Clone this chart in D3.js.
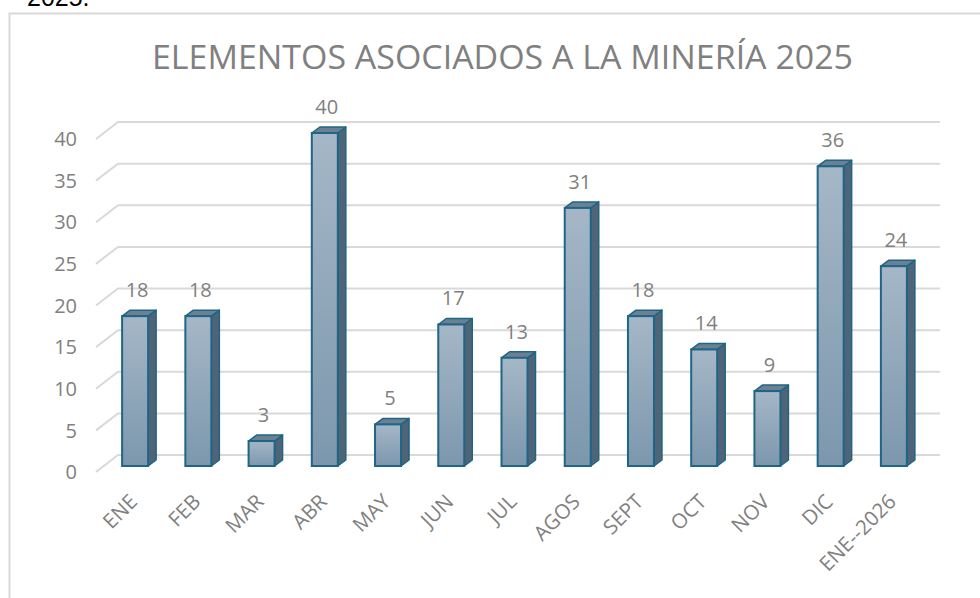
<!DOCTYPE html>
<html>
<head>
<meta charset="utf-8">
<script src="https://cdn.jsdelivr.net/npm/d3@7"></script>
<style>
  body { margin: 0; background: #fff; }
  svg { font-family: "Open Sans", "Liberation Sans", sans-serif; }
</style>
</head>
<body>
<div id="chart"></div>
<script>
const width = 980
const height = 598

const categories = ["ENE", "FEB", "MAR", "ABR", "MAY", "JUN", "JUL", "AGOS", "SEPT", "OCT", "NOV", "DIC", "ENE--2026"]
const values = [18, 18, 3, 40, 5, 17, 13, 31, 18, 14, 9, 36, 24]
const yTicks = [0, 5, 10, 15, 20, 25, 30, 35, 40]
const title = "ELEMENTOS ASOCIADOS A LA MINERÍA 2025"

// front plane of the 3d box, back wall is shifted by (wallDx, wallDy)
const wallDx = 22, wallDy = -17
const barDx = 8, barDy = -6       // bar depth
const barOffX = 7.5, barOffY = -6 // bar front face sits a bit inside the box

var x = d3.scaleBand()
  .domain(categories)
  .range([96, 918])
  .paddingInner(0)

var y = d3.scaleLinear()
  .domain([0, 40])
  .range([472, 139])

const barW = 26

var svg = d3.select("#chart")
  .append("svg")
  .attr("width", width)
  .attr("height", height)

// gradient for bar fronts
var defs = svg.append("defs")
var grad = defs.append("linearGradient")
  .attr("id", "barGrad")
  .attr("x1", 0).attr("y1", 0).attr("x2", 0).attr("y2", 1)
grad.append("stop").attr("offset", "0%").attr("stop-color", "#a5b7c7")
grad.append("stop").attr("offset", "100%").attr("stop-color", "#7c97ad")

// cut text on top of the page (cut in the original too)
svg.append("text")
  .attr("x", 27)
  .attr("y", 6)
  .style("font-family", "Liberation Sans, Arial, sans-serif")
  .style("font-size", "25px")
  .style("fill", "#000")
  .text("2025.")

// chart frame
svg.append("path")
  .attr("d", "M9.5," + (height + 2) + " L9.5,13.5 L" + (width + 2) + ",13.5")
  .attr("fill", "none")
  .attr("stroke", "#d9d9d9")
  .attr("stroke-width", 2)

// title
svg.append("text")
  .attr("x", 152)
  .attr("y", 69)
  .attr("textLength", 701)
  .attr("lengthAdjust", "spacingAndGlyphs")
  .style("font-size", "33px")
  .style("fill", "#808080")
  .text(title)

// gridlines (back wall + left side diagonal)
var grid = svg.append("g").attr("class", "grid")
yTicks.forEach(function(t) {
  grid.append("path")
    .attr("d", "M" + x.range()[0] + "," + y(t) +
      " L" + (x.range()[0] + wallDx) + "," + (y(t) + wallDy) +
      " L" + (x.range()[1] + wallDx) + "," + (y(t) + wallDy))
    .attr("fill", "none")
    .attr("stroke", "#d9d9d9")
    .attr("stroke-width", 2)
})

// y axis labels
svg.append("g")
  .selectAll("text")
  .data(yTicks)
  .join("text")
  .attr("x", 77)
  .attr("y", d => y(d))
  .attr("dy", "0.36em")
  .attr("text-anchor", "end")
  .style("font-size", "20px")
  .style("fill", "#808080")
  .text(d => d)

// bars
var bars = svg.append("g")
  .selectAll("g")
  .data(categories.map((c, i) => ({c: c, v: values[i]})))
  .join("g")

function fx(d) { return x(d.c) + x.bandwidth() / 2 - barW / 2 + barOffX }
function fy(v) { return y(v) + barOffY }

// side face
bars.append("path")
  .attr("d", function(d) {
    let x1 = fx(d) + barW
    return "M" + x1 + "," + fy(d.v) + " L" + (x1 + barDx) + "," + (fy(d.v) + barDy) +
      " L" + (x1 + barDx) + "," + (fy(0) + barDy) + " L" + x1 + "," + fy(0) + "Z"
  })
  .attr("fill", "#4f6577")
  .attr("stroke", "#1f6585")
  .attr("stroke-width", 1.5)
  .attr("stroke-linejoin", "round")

// top face
bars.append("path")
  .attr("d", function(d) {
    let x0 = fx(d)
    return "M" + x0 + "," + fy(d.v) + " L" + (x0 + barDx) + "," + (fy(d.v) + barDy) +
      " L" + (x0 + barW + barDx) + "," + (fy(d.v) + barDy) + " L" + (x0 + barW) + "," + fy(d.v) + "Z"
  })
  .attr("fill", "#6b8093")
  .attr("stroke", "#1f6585")
  .attr("stroke-width", 1.5)
  .attr("stroke-linejoin", "round")

// front face
bars.append("rect")
  .attr("x", d => fx(d))
  .attr("y", d => fy(d.v))
  .attr("width", barW)
  .attr("height", d => fy(0) - fy(d.v))
  .attr("fill", "url(#barGrad)")
  .attr("stroke", "#1f6585")
  .attr("stroke-width", 2)

// value labels
bars.append("text")
  .attr("x", d => fx(d) + barW / 2 + 2)
  .attr("y", d => fy(d.v) - 19)
  .attr("text-anchor", "middle")
  .style("font-size", "20px")
  .style("fill", "#808080")
  .text(d => d.v)

// category labels, rotated
svg.append("g")
  .selectAll("text")
  .data(categories)
  .join("text")
  .attr("transform", d => "translate(" + (x(d) + x.bandwidth() / 2 + 11) + ",503) rotate(-45)")
  .attr("text-anchor", "end")
  .style("font-size", "20.5px")
  .style("fill", "#808080")
  .text(d => d)
</script>
</body>
</html>
